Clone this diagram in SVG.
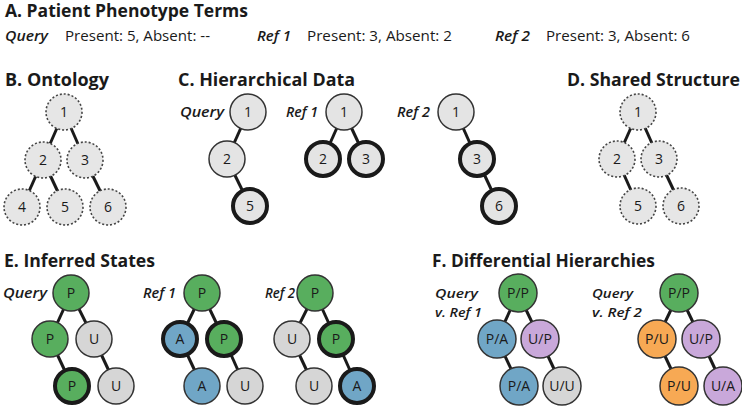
<svg xmlns="http://www.w3.org/2000/svg" width="742" height="411" viewBox="0 0 742 411">
<style>
.ttl{font-family:"Open Sans","Liberation Sans",sans-serif;font-weight:700;font-size:17px;fill:#1a1a1a}
.lab{font-family:"Open Sans","Liberation Sans",sans-serif;font-style:italic;font-weight:600;font-size:14px;fill:#1a1a1a}
.lab2{font-family:"Open Sans","Liberation Sans",sans-serif;font-style:italic;font-weight:600;font-size:13px;fill:#1a1a1a}
.txt{font-family:"Open Sans","Liberation Sans",sans-serif;font-size:14px;fill:#1a1a1a}
.nl{font-family:"Open Sans","Liberation Sans",sans-serif;font-size:14px;fill:#1a1a1a;text-anchor:middle}
.dot{fill:#e6e6e6;stroke:#444;stroke-width:1.6;stroke-dasharray:2 2}
.thin{stroke:#333;stroke-width:1.5}
.thick{stroke:#1a1a1a;stroke-width:4}
.lg{fill:#e4e4e4}
.gr{fill:#d6d6d6}
.g{fill:#58ae5e}
.b{fill:#70a6c6}
.p{fill:#c9a8da}
.o{fill:#f7a954}
.edges line{stroke:#1a1a1a;stroke-width:3}
</style>

<!-- A -->
<g id="sectionA">
<text class="ttl" x="5" y="17" textLength="243" lengthAdjust="spacingAndGlyphs">A. Patient Phenotype Terms</text>
<text class="lab" x="5" y="41" textLength="43" lengthAdjust="spacingAndGlyphs">Query</text>
<text class="txt" x="65" y="41" textLength="145" lengthAdjust="spacingAndGlyphs">Present: 5, Absent: --</text>
<text class="lab" x="257" y="41" textLength="34" lengthAdjust="spacingAndGlyphs">Ref 1</text>
<text class="txt" x="307" y="41" textLength="145" lengthAdjust="spacingAndGlyphs">Present: 3, Absent: 2</text>
<text class="lab" x="495" y="41" textLength="35" lengthAdjust="spacingAndGlyphs">Ref 2</text>
<text class="txt" x="546" y="41" textLength="144" lengthAdjust="spacingAndGlyphs">Present: 3, Absent: 6</text>
</g>

<!-- titles -->
<g id="titles">
<text class="ttl" x="5" y="86" textLength="104" lengthAdjust="spacingAndGlyphs">B. Ontology</text>
<text class="ttl" x="178" y="86" textLength="177" lengthAdjust="spacingAndGlyphs">C. Hierarchical  Data</text>
<text class="ttl" x="567" y="86" textLength="173" lengthAdjust="spacingAndGlyphs">D. Shared Structure</text>
<text class="ttl" x="4" y="267" textLength="151" lengthAdjust="spacingAndGlyphs">E. Inferred States</text>
<text class="ttl" x="432" y="267" textLength="223" lengthAdjust="spacingAndGlyphs">F. Differential Hierarchies</text>
<text class="lab" x="180" y="117" textLength="44" lengthAdjust="spacingAndGlyphs">Query</text>
<text class="lab" x="286" y="117" textLength="32" lengthAdjust="spacingAndGlyphs">Ref 1</text>
<text class="lab" x="397" y="117" textLength="33" lengthAdjust="spacingAndGlyphs">Ref 2</text>
<text class="lab" x="3" y="298" textLength="44" lengthAdjust="spacingAndGlyphs">Query</text>
<text class="lab" x="143" y="298" textLength="33" lengthAdjust="spacingAndGlyphs">Ref 1</text>
<text class="lab" x="265" y="298" textLength="30" lengthAdjust="spacingAndGlyphs">Ref 2</text>
<text class="lab2" x="435" y="298" textLength="43" lengthAdjust="spacingAndGlyphs">Query</text>
<text class="lab2" x="435" y="317" textLength="47" lengthAdjust="spacingAndGlyphs">v. Ref 1</text>
<text class="lab2" x="592" y="298" textLength="41" lengthAdjust="spacingAndGlyphs">Query</text>
<text class="lab2" x="592" y="317" textLength="50" lengthAdjust="spacingAndGlyphs">v. Ref 2</text>
</g>

<!-- connectors -->
<g id="connectors" class="edges">
<line x1="64" y1="112" x2="43" y2="160"/><line x1="64" y1="112" x2="85" y2="160"/>
<line x1="43" y1="160" x2="22" y2="207"/><line x1="43" y1="160" x2="65" y2="207"/>
<line x1="85" y1="160" x2="108" y2="207"/>
<line x1="248" y1="112" x2="227" y2="159"/><line x1="227" y1="159" x2="250" y2="206"/>
<line x1="344" y1="112" x2="323" y2="159"/><line x1="344" y1="112" x2="366" y2="159"/>
<line x1="456" y1="112" x2="477" y2="159"/><line x1="477" y1="159" x2="499" y2="206"/>
<line x1="638" y1="112" x2="617" y2="159"/><line x1="638" y1="112" x2="659" y2="159"/>
<line x1="617" y1="159" x2="638" y2="206"/><line x1="659" y1="159" x2="681" y2="206"/>
<line x1="71" y1="293" x2="50" y2="339"/><line x1="71" y1="293" x2="94" y2="339"/>
<line x1="50" y1="339" x2="72" y2="386"/><line x1="94" y1="339" x2="116" y2="386"/>
<line x1="202" y1="293" x2="180" y2="339"/><line x1="202" y1="293" x2="224" y2="339"/>
<line x1="180" y1="339" x2="202" y2="386"/><line x1="224" y1="339" x2="245" y2="386"/>
<line x1="315" y1="293" x2="292" y2="339"/><line x1="315" y1="293" x2="336" y2="339"/>
<line x1="292" y1="339" x2="314" y2="386"/><line x1="336" y1="339" x2="357" y2="386"/>
<line x1="518" y1="293" x2="497" y2="339"/><line x1="518" y1="293" x2="540" y2="339"/>
<line x1="497" y1="339" x2="519" y2="386"/><line x1="540" y1="339" x2="562" y2="386"/>
<line x1="679" y1="293" x2="657" y2="339"/><line x1="679" y1="293" x2="701" y2="339"/>
<line x1="657" y1="339" x2="679" y2="386"/><line x1="701" y1="339" x2="723" y2="386"/>
</g>

<!-- B nodes -->
<g id="B1"><circle class="dot" cx="64" cy="112" r="18"/><text class="nl" x="64" y="117">1</text></g>
<g id="B2"><circle class="dot" cx="43" cy="160" r="18"/><text class="nl" x="43" y="165">2</text></g>
<g id="B3"><circle class="dot" cx="85" cy="160" r="18"/><text class="nl" x="85" y="165">3</text></g>
<g id="B4"><circle class="dot" cx="22" cy="207" r="18"/><text class="nl" x="22" y="212">4</text></g>
<g id="B5"><circle class="dot" cx="65" cy="207" r="18"/><text class="nl" x="65" y="212">5</text></g>
<g id="B6"><circle class="dot" cx="108" cy="207" r="18"/><text class="nl" x="108" y="212">6</text></g>

<!-- C nodes -->
<g id="CQ1"><circle class="lg thin" cx="248" cy="112" r="18"/><text class="nl" x="248" y="117">1</text></g>
<g id="CQ2"><circle class="lg thin" cx="227" cy="159" r="18"/><text class="nl" x="227" y="164">2</text></g>
<g id="CQ5"><circle class="lg thick" cx="250" cy="206" r="17"/><text class="nl" x="250" y="211">5</text></g>
<g id="CR1_1"><circle class="lg thin" cx="344" cy="112" r="18"/><text class="nl" x="344" y="117">1</text></g>
<g id="CR1_2"><circle class="lg thick" cx="323" cy="159" r="17"/><text class="nl" x="323" y="164">2</text></g>
<g id="CR1_3"><circle class="lg thick" cx="366" cy="159" r="17"/><text class="nl" x="366" y="164">3</text></g>
<g id="CR2_1"><circle class="lg thin" cx="456" cy="112" r="18"/><text class="nl" x="456" y="117">1</text></g>
<g id="CR2_3"><circle class="lg thick" cx="477" cy="159" r="17"/><text class="nl" x="477" y="164">3</text></g>
<g id="CR2_6"><circle class="lg thick" cx="499" cy="206" r="17"/><text class="nl" x="499" y="211">6</text></g>

<!-- D nodes -->
<g id="D1"><circle class="dot" cx="638" cy="112" r="18"/><text class="nl" x="638" y="117">1</text></g>
<g id="D2"><circle class="dot" cx="617" cy="159" r="18"/><text class="nl" x="617" y="164">2</text></g>
<g id="D3"><circle class="dot" cx="659" cy="159" r="18"/><text class="nl" x="659" y="164">3</text></g>
<g id="D5"><circle class="dot" cx="638" cy="206" r="18"/><text class="nl" x="638" y="211">5</text></g>
<g id="D6"><circle class="dot" cx="681" cy="206" r="18"/><text class="nl" x="681" y="211">6</text></g>

<!-- E nodes -->
<g id="EQ1"><circle class="g thin" cx="71" cy="293" r="18"/><text class="nl" x="71" y="298">P</text></g>
<g id="EQ2"><circle class="g thin" cx="50" cy="339" r="18"/><text class="nl" x="50" y="344">P</text></g>
<g id="EQ3"><circle class="gr thin" cx="94" cy="339" r="18"/><text class="nl" x="94" y="344">U</text></g>
<g id="EQ5"><circle class="g thick" cx="72" cy="386" r="17"/><text class="nl" x="72" y="391">P</text></g>
<g id="EQ6"><circle class="gr thin" cx="116" cy="386" r="18"/><text class="nl" x="116" y="391">U</text></g>

<g id="ER1_1"><circle class="g thin" cx="202" cy="293" r="18"/><text class="nl" x="202" y="298">P</text></g>
<g id="ER1_2"><circle class="b thick" cx="180" cy="339" r="17"/><text class="nl" x="180" y="344">A</text></g>
<g id="ER1_3"><circle class="g thick" cx="224" cy="339" r="17"/><text class="nl" x="224" y="344">P</text></g>
<g id="ER1_5"><circle class="b thin" cx="202" cy="386" r="18"/><text class="nl" x="202" y="391">A</text></g>
<g id="ER1_6"><circle class="gr thin" cx="245" cy="386" r="18"/><text class="nl" x="245" y="391">U</text></g>

<g id="ER2_1"><circle class="g thin" cx="315" cy="293" r="18"/><text class="nl" x="315" y="298">P</text></g>
<g id="ER2_2"><circle class="gr thin" cx="292" cy="339" r="18"/><text class="nl" x="292" y="344">U</text></g>
<g id="ER2_3"><circle class="g thick" cx="336" cy="339" r="17"/><text class="nl" x="336" y="344">P</text></g>
<g id="ER2_5"><circle class="gr thin" cx="314" cy="386" r="18"/><text class="nl" x="314" y="391">U</text></g>
<g id="ER2_6"><circle class="b thick" cx="357" cy="386" r="17"/><text class="nl" x="357" y="391">A</text></g>

<!-- F nodes -->
<g id="F1_1"><circle class="g thin" cx="518" cy="293" r="19"/><text class="nl" x="518" y="298">P/P</text></g>
<g id="F1_2"><circle class="b thin" cx="497" cy="339" r="19"/><text class="nl" x="497" y="344">P/A</text></g>
<g id="F1_3"><circle class="p thin" cx="540" cy="339" r="19"/><text class="nl" x="540" y="344">U/P</text></g>
<g id="F1_5"><circle class="b thin" cx="519" cy="386" r="19"/><text class="nl" x="519" y="391">P/A</text></g>
<g id="F1_6"><circle class="gr thin" cx="562" cy="386" r="19"/><text class="nl" x="562" y="391">U/U</text></g>

<g id="F2_1"><circle class="g thin" cx="679" cy="293" r="19"/><text class="nl" x="679" y="298">P/P</text></g>
<g id="F2_2"><circle class="o thin" cx="657" cy="339" r="19"/><text class="nl" x="657" y="344">P/U</text></g>
<g id="F2_3"><circle class="p thin" cx="701" cy="339" r="19"/><text class="nl" x="701" y="344">U/P</text></g>
<g id="F2_5"><circle class="o thin" cx="679" cy="386" r="19"/><text class="nl" x="679" y="391">P/U</text></g>
<g id="F2_6"><circle class="p thin" cx="723" cy="386" r="19"/><text class="nl" x="723" y="391">U/A</text></g>
</svg>
